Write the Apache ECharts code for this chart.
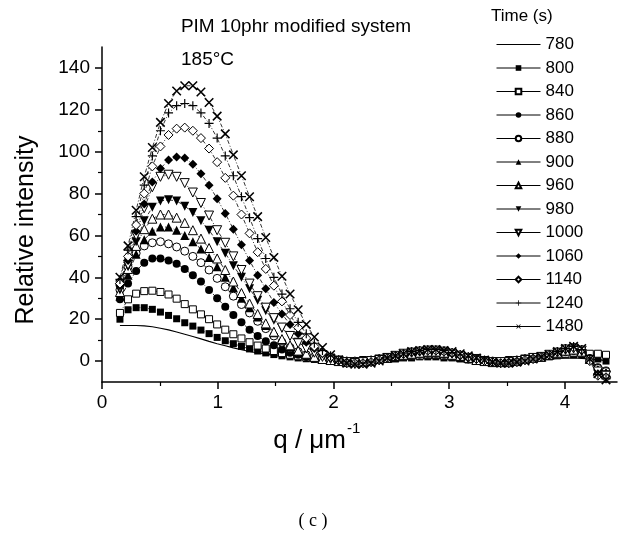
<!DOCTYPE html>
<html><head><meta charset="utf-8">
<script src="https://cdn.jsdelivr.net/npm/echarts@6/dist/echarts.min.js"></script>
<style>html,body{margin:0;padding:0;background:#fff}#c{width:626px;height:554px}</style>
</head><body><div id="c"></div>
<script>
// ---------- data ----------
const q = [0.155,0.225,0.295,0.365,0.435,0.505,0.575,0.645,0.715,0.785,0.855,0.925,0.995,1.065,1.135,1.205,1.275,1.345,1.415,1.485,1.555,1.625,1.695,1.765,1.835,1.905,1.975,2.045,2.115,2.185,2.255,2.325,2.395,2.465,2.535,2.605,2.675,2.745,2.815,2.885,2.955,3.025,3.095,3.165,3.235,3.305,3.375,3.445,3.515,3.585,3.655,3.725,3.795,3.865,3.935,4.005,4.075,4.145,4.215,4.285,4.355];
const times = ['780','800','840','860','880','900','960','980','1000','1060','1140','1240','1480'];
const s780 = [17,17,17,16.8,16.4,15.7,14.9,13.9,12.8,11.7,10.6,9.4,8.3,7.3,6.3,5.4,4.6,3.9,3.3,2.7,2.2,1.8,1.5,1.2,1,0.8,0.6,0.4,
  0.3,0.3,0.3,0.4,0.5,0.6,0.8,1,1.1,1.2,1.3,1.3,1.2,1.1,0.9,0.7,0.5,0.4,0.3,0.3,0.3,0.4,0.5,0.6,0.8,1,1.2,1.4,1.5,1.3,1,0.6,0.3];
const s800 = [20,24.5,25.5,25.5,24.7,23.4,21.8,20.2,18.3,16.7,14.8,13.1,11.3,9.7,8.3,7,5.8,4.8,3.9,3.1,2.5,2,1.5,1.1,0.8,0.5,0.3,0,
  0,0,0,0.5,0.5,1,1,1.5,1.5,2,2,2,1.5,1.5,1,0.5,0.5,0,0,0,0,0.5,0.5,1,1.5,2,2.5,3,3,3,2.5,1,0];
const s840 = [23,29.5,32.2,33.4,33.6,33,31.8,29.8,27.2,24.7,22.3,20,17.5,15,12.8,10.8,9,7.4,6,4.8,3.8,3,2.3,1.7,1.2,0.8,0.4,0,
  0,0,0.5,0.5,1,1.5,1.5,2,2.5,2.5,3,3,2.5,2,1.5,1,0.5,0.5,0,0,0.5,0.5,1,1.5,2,2.5,3,3.5,4,4,3.5,3.5,3];
const s860 = [29.5,37,43,47,49,49,48,46.5,44,41,38,34,30,26,22,18.5,15,12,9.5,7.5,5.5,4,3,2,1.2,0.6,0.2,-0.3,
  0,0,0,0.5,1,1.5,2,2.5,3,3,3.5,3.5,3,2.5,1.5,1,0.5,0,0,0,0,0.5,1,1.5,2,2.5,3.5,4.5,5,4,1.5,-3,-4.5];
const s880 = [34,45,51.5,55,56.5,57,56,54.5,52.5,50,47,43.5,39.5,35.5,31,27,23,19,15.5,12,9,6.5,4.5,3,2,1,0.5,0,
  0,0,0,0.5,1,1.5,2,2.5,3,3.5,4,4,3.5,2.5,2,1,0.5,0,0,-0.5,0,0.5,1,1.5,2,3,3.5,4.5,5,4,1,-3.5,-5];
const s900 = [31,41,51,58,62,64,64,62.5,60,57,53.5,49.5,45,40,35,30,25.5,21,17,13.5,10,7,5,3.5,2,1,0.5,0,
  0,-0.5,0,0.5,1,1.5,2,3,3.5,4,4,4,3.5,3,2,1.5,0.5,0,-0.5,-0.5,0,0.5,1,1.5,2,3,4,5,5.5,4.5,1,-4,-5.5];
const s960 = [33,44,55,63,68,70,70,68.5,66,62.5,58.5,54,49,43.5,38,32.5,27.5,22.5,18,14,10.5,7.5,5,3.5,2,1,0.5,0,
  -0.5,-0.5,-0.5,0,1,1.5,2.5,3,3.5,4,4.5,4.5,4,3,2.5,1.5,0.5,0,-0.5,-0.5,-0.5,0,1,1.5,2,3,4,5,5.5,4.5,1,-4.5,-6];
const s980 = [34,45,57,67,73.5,76.5,77,76.5,74,71,67,62.5,57,51.5,45.5,40,34.5,29,24,19.5,15.5,12,9,6.5,4.5,3,1.5,0.5,
  -0.5,-0.5,-0.5,0,1,1.5,2.5,3,4,4.5,4.5,4.5,4,3.5,2.5,1.5,1,0,-0.5,-0.5,-0.5,0,1,1.5,2,3,4,5,6,4.5,0.5,-5,-6.5];
const s1000 = [35,46,60,73,83,88,89,88,85,80.5,75.5,69.5,62.5,56.5,50,43.5,37,31,25.5,20.5,16,12,8.5,6,4,2,1,0,
  -0.5,-1,-0.5,0,0.5,1.5,2.5,3.5,4,4.5,5,5,4.5,3.5,2.5,1.5,1,0,-0.5,-0.5,-0.5,0,0.5,1.5,2,3,4,5.5,6,5,0.5,-5,-7];
const s1060 = [36,48,62,75,85.5,92,96,97.5,97,94,89.5,84,77.5,70.5,63,55.5,48,41,34.5,28,22.5,17.5,13,9,6,3.5,1.5,0,
  -0.5,-1,-1,-0.5,0.5,1.5,2.5,3.5,4,4.5,5,5,4.5,3.5,2.5,1.5,1,0,-0.5,-1,-0.5,0,0.5,1.5,2,3,4.5,5.5,6.5,5,0,-6,-7.5];
const s1140 = [37,50,65,80,93,102.5,108,111,111.5,110,106.5,101.5,95,87.5,79,70,61,52,44,36,28.5,22,16,11,7,4,2,0.5,
  -1,-1,-1,-0.5,0.5,1.5,2.5,3.5,4.5,5,5,5,4.5,4,3,2,1,0,-0.5,-1,-1,-0.5,0.5,1,2,3,4.5,6,6.5,5.5,0,-7,-8];
const s1240 = [39,53,69,84,98,110,118.5,122,123,122,118.5,113.5,106.5,98,88.5,78.5,68.5,58.5,49,40,32,25,18.5,13,8.5,5,2.5,0.5,
  -1,-1.5,-1,-0.5,0.5,1.5,2.5,3.5,4.5,5,5.5,5.5,5,4,3,2,1,0.5,-0.5,-1,-1,-0.5,0.5,1,2,3,4.5,6,7,5.5,0.5,-6.5,-8.5];
const s1480 = [40,55,72,88,102,114,123,129,131.5,131.5,128.5,123.5,117,108.5,98.5,88.5,78.5,69,59,49.5,40.5,32,24.5,17.5,11.5,6.5,3,0.5,
  -1,-1.5,-1.5,-1,0,1.5,2.5,3.5,4.5,5,5.5,5.5,5,4.5,3.5,2.5,1.5,0.5,-0.5,-1,-1,-0.5,0,1,2,3,4.5,6,7,6,1,-6,-9];
const seriesValues = [s780,s800,s840,s860,s880,s900,s960,s980,s1000,s1060,s1140,s1240,s1480];
const xMajorTicks = [0,1,2,3,4];
const xMinorTicks = [0.5,1.5,2.5,3.5];
const yMajorTicks = [0,20,40,60,80,100,120,140];
const yMinorTicks = [10,30,50,70,90,110,130];

// ---------- styles ----------
const FONT = '"Liberation Sans", Arial, Helvetica, sans-serif';
const PLUS = 'path://M0,4.35H10V5.65H0Z M4.35,0H5.65V10H4.35Z';
const markerDefs = {
  '780':  {symbol:'none'},
  '800':  {symbol:'rect', fill:'#000', size:7},
  '840':  {symbol:'rect', fill:'#fff', size:7},
  '860':  {symbol:'circle', fill:'#000', size:8},
  '880':  {symbol:'circle', fill:'#fff', size:8},
  '900':  {symbol:'triangle', fill:'#000', size:9},
  '960':  {symbol:'triangle', fill:'#fff', size:9},
  '980':  {symbol:'triangle', fill:'#000', size:9, rotate:180},
  '1000': {symbol:'triangle', fill:'#fff', size:9, rotate:180},
  '1060': {symbol:'diamond', fill:'#000', size:9},
  '1140': {symbol:'diamond', fill:'#fff', size:9},
  '1240': {symbol:PLUS, fill:'#000', size:9},
  '1480': {symbol:PLUS, fill:'#000', size:12, rotate:45}
};

const series = times.map((t, k) => {
  const m = markerDefs[t];
  const base = {
    name: t, type: 'line', xAxisIndex: 0, yAxisIndex: 0,
    data: q.map((x, i) => [x, seriesValues[k][i]]),
    animation: false, silent: true,
    emphasis: {disabled: true}
  };
  if (m.symbol === 'none') {
    return Object.assign(base, {symbol: 'none', showSymbol: false, lineStyle: {color: '#000', width: 1.1, type: 'solid'}, itemStyle: {color: '#000'}});
  }
  return Object.assign(base, {
    symbol: m.symbol, symbolSize: m.size, symbolRotate: m.rotate || 0, showSymbol: true,
    lineStyle: {color: '#000', width: 0.8, type: [4, 2, 1, 2]},
    itemStyle: {color: m.fill, borderColor: '#000', borderWidth: m.fill === '#fff' ? 1 : 0}
  });
});

const legendData = times.map(t => t === '780'
  ? {name: t, itemStyle: {color: 'rgba(0,0,0,0)', borderColor: 'rgba(0,0,0,0)', borderWidth: 0}, lineStyle: {color: '#000', width: 1, type: 'solid', opacity: 1}}
  : {name: t});

const axisLineStyle = {color: '#000', width: 1.5};
const option = {
  backgroundColor: '#fff',
  animation: false,
  grid: {left: 102, right: 9, top: 47, bottom: 172, containLabel: false},
  xAxis: [
    {type: 'value', min: 0, max: 4.45, interval: 0.5, position: 'bottom',
     axisLine: {show: true, onZero: false, lineStyle: axisLineStyle},
     axisTick: {show: true, inside: false, length: 7, lineStyle: {color: '#000', width: 1.5}, customValues: xMajorTicks},
     axisLabel: {show: true, margin: 11, fontSize: 19, fontFamily: FONT, color: '#000', customValues: xMajorTicks,
       formatter: v => (Math.abs(v - Math.round(v)) < 1e-6 && v <= 4 ? String(Math.round(v)) : '')},
     splitLine: {show: false}},
    {type: 'value', min: 0, max: 4.45, interval: 0.5, position: 'bottom',
     axisLine: {show: false, onZero: false},
     axisTick: {show: true, inside: false, length: 4, lineStyle: {color: '#000', width: 1.2}, customValues: xMinorTicks},
     axisLabel: {show: false}, splitLine: {show: false}}
  ],
  yAxis: [
    {type: 'value', min: -10, max: 150, interval: 10, position: 'left',
     axisLine: {show: true, onZero: false, lineStyle: axisLineStyle},
     axisTick: {show: true, inside: false, length: 7, lineStyle: {color: '#000', width: 1.5}, customValues: yMajorTicks},
     axisLabel: {show: true, margin: 12, fontSize: 19, fontFamily: FONT, color: '#000', customValues: yMajorTicks,
       formatter: v => (v >= 0 && v <= 140 && v % 20 === 0 ? String(v) : '')},
     splitLine: {show: false}},
    {type: 'value', min: -10, max: 150, interval: 10, position: 'left',
     axisLine: {show: false, onZero: false},
     axisTick: {show: true, inside: false, length: 4, lineStyle: {color: '#000', width: 1.2}, customValues: yMinorTicks},
     axisLabel: {show: false}, splitLine: {show: false}}
  ],
  legend: {
    orient: 'vertical', left: 491, top: 31, itemWidth: 44, itemHeight: 7, itemGap: 6.5,
    selectedMode: false, data: legendData,
    lineStyle: {type: 'solid', width: 1, color: '#000'},
    textStyle: {fontSize: 17, fontFamily: FONT, color: '#000', lineHeight: 17}
  },
  graphic: [
    {type: 'text', x: 296, y: 27, style: {text: 'PIM 10phr modified system', fontSize: 19, fontFamily: FONT, fill: '#000', align: 'center', verticalAlign: 'middle'}},
    {type: 'text', x: 181, y: 60, style: {text: '185°C', fontSize: 19, fontFamily: FONT, fill: '#000', align: 'left', verticalAlign: 'middle'}},
    {type: 'text', x: 491, y: 16, style: {text: 'Time (s)', fontSize: 17, fontFamily: FONT, fill: '#000', align: 'left', verticalAlign: 'middle'}},
    {type: 'text', x: 26, y: 230, rotation: Math.PI / 2, style: {text: 'Relative intensity', fontSize: 25, fontFamily: FONT, fill: '#000', align: 'center', verticalAlign: 'middle'}},
    {type: 'text', x: 346, y: 441, style: {text: 'q / μm', fontSize: 26, fontFamily: FONT, fill: '#000', align: 'right', verticalAlign: 'middle'}},
    {type: 'text', x: 347, y: 429, style: {text: '-1', fontSize: 15, fontFamily: FONT, fill: '#000', align: 'left', verticalAlign: 'middle'}},
    {type: 'text', x: 313, y: 521, style: {text: '( c )', fontSize: 18, fontFamily: '"Liberation Serif", "Times New Roman", serif', fill: '#000', align: 'center', verticalAlign: 'middle'}}
  ],
  series: series
};
const chart = echarts.init(document.getElementById('c'), null, {renderer: 'canvas'});
chart.setOption(option);
</script>
</body></html>
